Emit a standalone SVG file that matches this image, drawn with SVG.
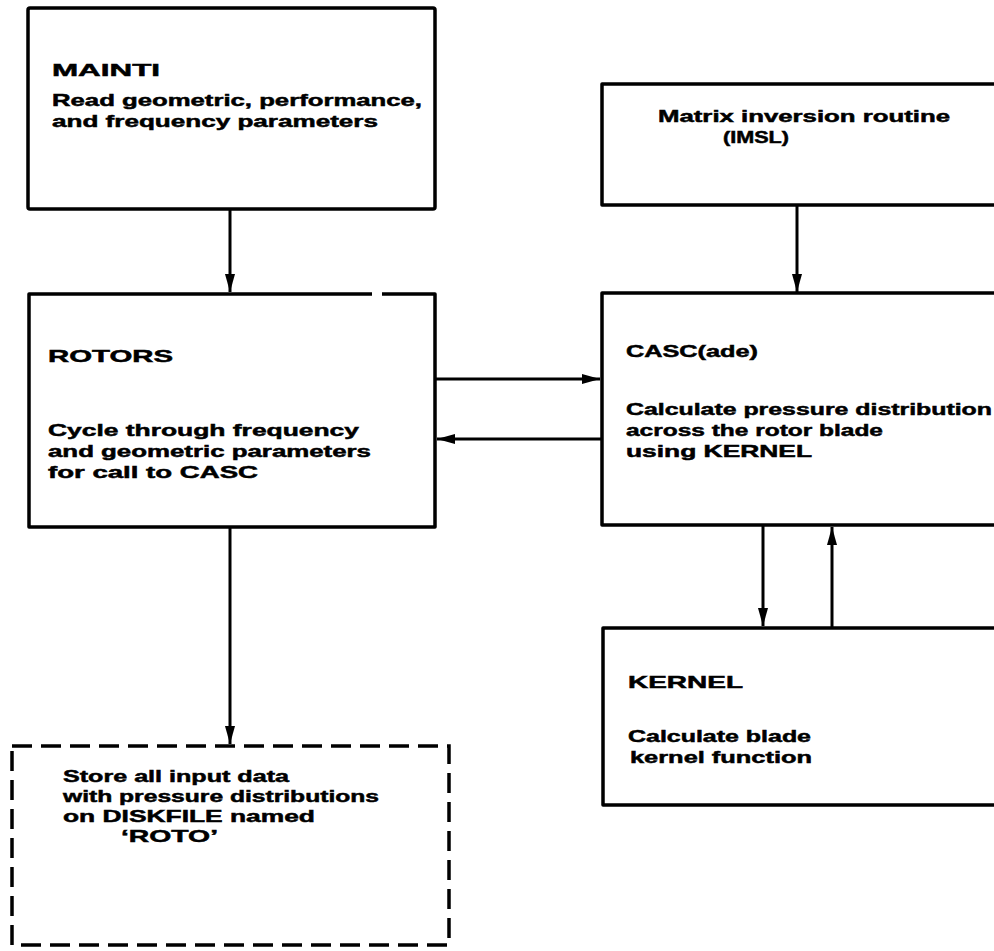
<svg xmlns="http://www.w3.org/2000/svg" width="994" height="951" viewBox="0 0 994 951">
<defs>
<style>
.box{fill:none;stroke:#000;stroke-width:3.5;stroke-linejoin:round}
.dash{fill:none;stroke:#000;stroke-width:3.5;stroke-dasharray:20 9}
.ln{fill:none;stroke:#000;stroke-width:3}
text{font-family:"Liberation Sans",Arial,sans-serif;font-weight:bold;font-size:17px;fill:#000;stroke:#000;stroke-width:0.5}
</style>
<marker id="ah" markerWidth="18" markerHeight="10" refX="18" refY="5" orient="auto" markerUnits="userSpaceOnUse">
<path d="M0,0 L18,5 L0,10 Z" fill="#000"/>
</marker>
</defs>
<rect width="994" height="951" fill="#fff"/>
<g id="connectors">
<line class="ln" x1="230" y1="210" x2="230" y2="292" marker-end="url(#ah)"/>
<line class="ln" x1="797" y1="206" x2="797" y2="292" marker-end="url(#ah)"/>
<line class="ln" x1="436" y1="379" x2="600" y2="379" marker-end="url(#ah)"/>
<line class="ln" x1="601" y1="439" x2="437" y2="439" marker-end="url(#ah)"/>
<line class="ln" x1="763" y1="526" x2="763" y2="626" marker-end="url(#ah)"/>
<line class="ln" x1="832" y1="627" x2="832" y2="527" marker-end="url(#ah)"/>
<line class="ln" x1="230" y1="528" x2="230" y2="744" marker-end="url(#ah)"/>
</g>
<g id="mainti">
<rect class="box" x="28" y="8" width="407" height="201" rx="2"/>
<text x="52" y="76" textLength="108" lengthAdjust="spacingAndGlyphs">MAINTI</text>
<text x="52" y="106" textLength="370" lengthAdjust="spacingAndGlyphs">Read geometric, performance,</text>
<text x="52" y="127" textLength="326" lengthAdjust="spacingAndGlyphs">and frequency parameters</text>
</g>
<g id="rotors">
<path class="box" d="M382,294 H435 V527 H29 V294 H372"/>
<text x="48" y="362" textLength="125" lengthAdjust="spacingAndGlyphs">ROTORS</text>
<text x="48" y="436" textLength="311" lengthAdjust="spacingAndGlyphs">Cycle through frequency</text>
<text x="48" y="457" textLength="323" lengthAdjust="spacingAndGlyphs">and geometric parameters</text>
<text x="48" y="478" textLength="210" lengthAdjust="spacingAndGlyphs">for call to CASC</text>
</g>
<g id="store">
<rect class="dash" x="12" y="746" width="437" height="199"/>
<text x="63" y="782" textLength="226" lengthAdjust="spacingAndGlyphs">Store all input data</text>
<text x="63" y="802" textLength="316" lengthAdjust="spacingAndGlyphs">with pressure distributions</text>
<text x="63" y="822" textLength="252" lengthAdjust="spacingAndGlyphs">on DISKFILE named</text>
<text x="121" y="842" textLength="97" lengthAdjust="spacingAndGlyphs">‘ROTO’</text>
</g>
<g id="matrix">
<path class="box" d="M996,84 H602 V205 H996"/>
<text x="658" y="122" textLength="292" lengthAdjust="spacingAndGlyphs">Matrix inversion routine</text>
<text x="723" y="143" textLength="66" lengthAdjust="spacingAndGlyphs">(IMSL)</text>
</g>
<g id="casc">
<path class="box" d="M996,293 H602 V525 H996"/>
<text x="626" y="357" textLength="132" lengthAdjust="spacingAndGlyphs">CASC(ade)</text>
<text x="626" y="415" textLength="366" lengthAdjust="spacingAndGlyphs">Calculate pressure distribution</text>
<text x="626" y="436" textLength="257" lengthAdjust="spacingAndGlyphs">across the rotor blade</text>
<text x="626" y="457" textLength="186" lengthAdjust="spacingAndGlyphs">using KERNEL</text>
</g>
<g id="kernel">
<path class="box" d="M996,628 H603 V805 H996"/>
<text x="628" y="688" textLength="115" lengthAdjust="spacingAndGlyphs">KERNEL</text>
<text x="628" y="742" textLength="183" lengthAdjust="spacingAndGlyphs">Calculate blade</text>
<text x="630" y="763" textLength="182" lengthAdjust="spacingAndGlyphs">kernel function</text>
</g>
</svg>
